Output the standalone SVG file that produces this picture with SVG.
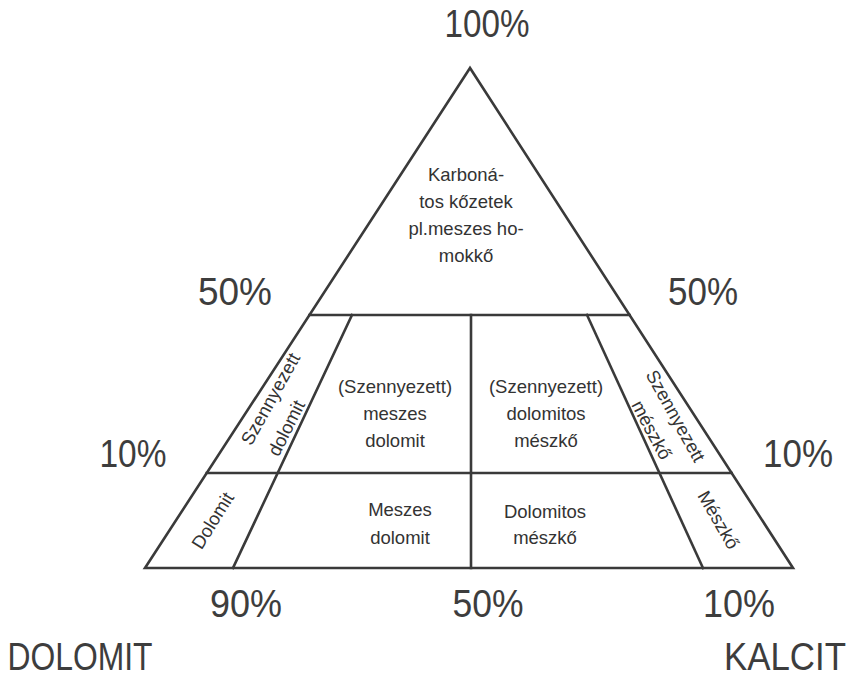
<svg xmlns="http://www.w3.org/2000/svg" width="858" height="679" viewBox="0 0 858 679">
<style>
.ln{stroke:#3a3a3a;stroke-width:2.6;fill:none;stroke-linejoin:miter;stroke-linecap:square}
.pc{font-family:"Liberation Sans",Arial,sans-serif;font-size:38px;fill:#3d3d3d;text-anchor:middle}
.ax{font-family:"Liberation Sans",Arial,sans-serif;font-size:38px;fill:#3d3d3d;text-anchor:middle}
.lb{font-family:"Liberation Sans",Arial,sans-serif;font-size:18.5px;fill:#333;text-anchor:middle}
</style>
<rect width="858" height="679" fill="#ffffff"/>
<g id="connectors">
<polygon class="ln" points="470,68 145,568 793,568"/>
<line class="ln" x1="309.5" y1="315" x2="629.6" y2="315"/>
<line class="ln" x1="206.8" y1="473" x2="731.6" y2="473"/>
<line class="ln" x1="471" y1="315" x2="471" y2="568"/>
<line class="ln" x1="352" y1="315" x2="233" y2="568"/>
<line class="ln" x1="587" y1="315" x2="703" y2="568"/>
</g>
<g id="scale-labels">
<text class="pc" x="487" y="37" textLength="85" lengthAdjust="spacingAndGlyphs">100%</text>
<text class="pc" x="235" y="305" textLength="74" lengthAdjust="spacingAndGlyphs">50%</text>
<text class="pc" x="703" y="305" textLength="70" lengthAdjust="spacingAndGlyphs">50%</text>
<text class="pc" x="133" y="467" textLength="67" lengthAdjust="spacingAndGlyphs">10%</text>
<text class="pc" x="798" y="467" textLength="70" lengthAdjust="spacingAndGlyphs">10%</text>
<text class="pc" x="246" y="617" font-size="36" textLength="72" lengthAdjust="spacingAndGlyphs">90%</text>
<text class="pc" x="488" y="617" font-size="36" textLength="71" lengthAdjust="spacingAndGlyphs">50%</text>
<text class="pc" x="739" y="617" font-size="36" textLength="72" lengthAdjust="spacingAndGlyphs">10%</text>
</g>
<g id="node-dolomit-axis"><text class="ax" x="80" y="670" textLength="145" lengthAdjust="spacingAndGlyphs">DOLOMIT</text></g>
<g id="node-kalcit-axis"><text class="ax" x="785" y="670" textLength="122" lengthAdjust="spacingAndGlyphs">KALCIT</text></g>
<g id="node-karbonatos">
<text class="lb" x="466" y="181">Karboná-</text>
<text class="lb" x="466" y="208">tos kőzetek</text>
<text class="lb" x="466" y="235">pl.meszes ho-</text>
<text class="lb" x="466" y="262">mokkő</text>
</g>
<g id="node-sz-meszes-dolomit">
<text class="lb" x="395" y="393">(Szennyezett)</text>
<text class="lb" x="395" y="420">meszes</text>
<text class="lb" x="395" y="447">dolomit</text>
</g>
<g id="node-sz-dolomitos-meszko">
<text class="lb" x="546" y="393">(Szennyezett)</text>
<text class="lb" x="546" y="420">dolomitos</text>
<text class="lb" x="546" y="447">mészkő</text>
</g>
<g id="node-meszes-dolomit">
<text class="lb" x="400" y="516">Meszes</text>
<text class="lb" x="400" y="544">dolomit</text>
</g>
<g id="node-dolomitos-meszko">
<text class="lb" x="545" y="518">Dolomitos</text>
<text class="lb" x="545" y="544">mészkő</text>
</g>
<g id="node-sz-dolomit">
<text class="lb" transform="translate(276,402) rotate(-61)">Szennyezett</text>
<text class="lb" transform="translate(292,431) rotate(-63)">dolomit</text>
</g>
<g id="node-sz-meszko">
<text class="lb" transform="translate(670,419) rotate(61)">Szennyezett</text>
<text class="lb" transform="translate(646,433) rotate(62)">mészkő</text>
</g>
<g id="node-dolomit">
<text class="lb" transform="translate(218,524) rotate(-58)">Dolomit</text>
</g>
<g id="node-meszko">
<text class="lb" transform="translate(713,523) rotate(60)">Mészkő</text>
</g>
</svg>
